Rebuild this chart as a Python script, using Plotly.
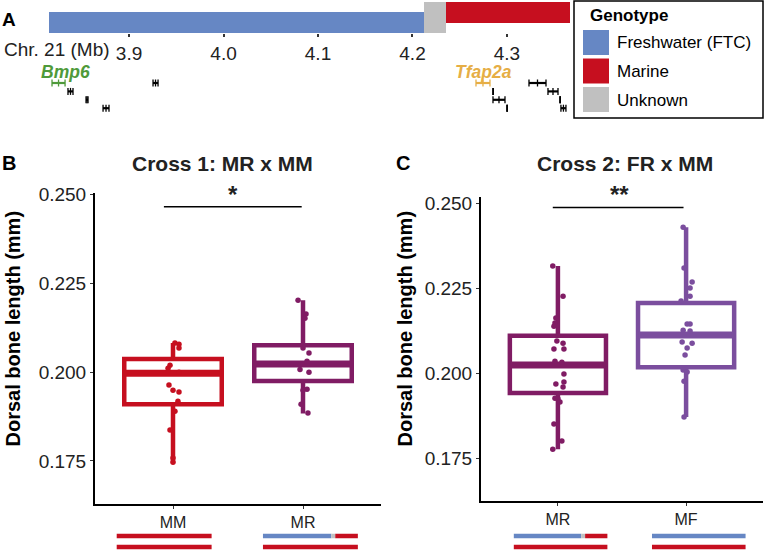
import plotly.graph_objects as go

# ---------------- data ----------------
# Panel A: genotype segments along chr 21 (Mb)
geno_names = ["Freshwater (FTC)", "Unknown", "Marine"]
geno_start = [3.8153, 4.2122, 4.2354]
geno_end = [4.2122, 4.2354, 4.3667]
axis_ticks = [3.9, 4.0, 4.1, 4.2, 4.3]
axis_ticktext = ["3.9", "4.0", "4.1", "4.2", "4.3"]

# gene models (start, end, track row, colour key)
gene_start = [3.8185, 3.8354, 3.8545, 3.8725, 3.9254, 4.2672, 4.2852, 4.2852, 4.3000, 4.3233, 4.3434, 4.3561, 4.3571]
gene_end   = [3.8323, 3.8407, 3.8566, 3.8788, 3.9307, 4.2820, 4.2855, 4.2979, 4.3003, 4.3413, 4.3540, 4.3564, 4.3624]
gene_row   = [0, 1, 2, 3, 0, 0, 1, 2, 3, 0, 1, 2, 3]
gene_kind  = ["Bmp6", "other", "other", "other", "other", "Tfap2a", "other", "other", "other", "other", "other", "other", "other"]
gene_labels = ["Bmp6", "Tfap2a"]
gene_label_x = [3.8323, 4.2751]

# Panel B: Cross 1 (MR x MM)
b_groups = ["MM", "MR"]
b_q1 = [0.1910, 0.1975]
b_med = [0.1997, 0.2023]
b_q3 = [0.2037, 0.2076]
b_lo = [0.1746, 0.1884]
b_hi = [0.2082, 0.2203]
b_mm_y = [0.2082, 0.2079, 0.2068, 0.2020, 0.2011, 0.2000, 0.1964, 0.1949, 0.1944, 0.1918, 0.1890, 0.1837, 0.1758, 0.1746]
b_mm_jit = [0.015, 0.046, 0.046, -0.023, -0.038, 0.046, -0.031, 0.0, 0.046, 0.038, 0.015, -0.023, 0.0, 0.0]
b_mr_y = [0.2203, 0.2164, 0.2152, 0.2068, 0.2054, 0.2031, 0.2008, 0.2000, 0.1952, 0.1949, 0.1910, 0.1885]
b_mr_jit = [-0.038, 0.023, 0.015, 0.0, 0.046, 0.031, -0.023, 0.046, 0.031, 0.0, -0.015, 0.038]

# Panel C: Cross 2 (FR x MM)
c_groups = ["MR", "MF"]
c_q1 = [0.1941, 0.2017]
c_med = [0.2024, 0.2112]
c_q3 = [0.2110, 0.2206]
c_lo = [0.1776, 0.1871]
c_hi = [0.2315, 0.2429]
c_mr_y = [0.2315, 0.2226, 0.2162, 0.2147, 0.2138, 0.2094, 0.2088, 0.2071, 0.2071, 0.2035, 0.2032,
          0.1997, 0.1968, 0.1974, 0.1959, 0.1926, 0.1924, 0.1915, 0.1850, 0.1800, 0.1776]
c_mr_jit = [-0.04, 0.04, -0.016, -0.023, -0.031, -0.008, 0.04, -0.031, 0.047, -0.023, 0.031,
            0.047, -0.016, 0.047, 0.04, -0.023, 0.0, 0.016, -0.031, 0.031, -0.04]
c_mf_y = [0.2429, 0.2309, 0.2268, 0.2250, 0.2226, 0.2212, 0.2144, 0.2144, 0.2126, 0.2124, 0.2091,
          0.2088, 0.2074, 0.2053, 0.2009, 0.2003, 0.1976, 0.1871]
c_mf_jit = [-0.023, -0.016, 0.047, 0.031, 0.031, -0.039, 0.008, 0.031, -0.023, 0.031, -0.031,
            0.047, 0.008, -0.008, -0.023, 0.008, -0.016, -0.016]

# haplotypes drawn under each genotype class (top, bottom): M marine, F freshwater, R recombinant
b_haplo = [("M", "M"), ("R", "M")]
c_haplo = [("R", "M"), ("F", "M")]

# ---------------- styles ----------------
FONT = "Liberation Sans, Arial, Helvetica, sans-serif"
BLUE = "#6687C4"
RED = "#C60F1F"
GRAY = "#C0C0C0"
MAG = "#801C64"
PURP = "#7B4E9E"
GREEN = "#4F9A3A"
GOLD = "#E6AE45"
geno_col = {"Freshwater (FTC)": BLUE, "Unknown": GRAY, "Marine": RED}
b_cols = [RED, MAG]
c_cols = [MAG, PURP]
W, H = 765, 551


def px(x):
    return x / W


def py(y):
    return 1 - y / H


def text(x, y, t, size, color="black", xanchor="center", yanchor="middle", **kw):
    return dict(x=px(x), y=py(y), xref="paper", yref="paper", text=t, showarrow=False,
                xanchor=xanchor, yanchor=yanchor, font=dict(family=FONT, size=size, color=color), **kw)


fig = go.Figure()

# ---------- panel A ----------
for n, s, e in zip(geno_names, geno_start, geno_end):
    fig.add_trace(go.Bar(x=[e - s], base=[s], y=[0.5], orientation="h", width=1,
                         marker=dict(color=geno_col[n], line=dict(width=0)),
                         xaxis="x3", yaxis="y3", showlegend=False, hoverinfo="skip"))

kind_col = {"Bmp6": GREEN, "Tfap2a": GOLD, "other": "black"}
for s, e, r, k in zip(gene_start, gene_end, gene_row, gene_kind):
    c = kind_col[k]
    fig.add_trace(go.Scatter(x=[s, (s + e) / 2, e], y=[r, r, r], mode="lines+markers",
                             line=dict(color=c, width=2.2),
                             marker=dict(symbol="line-ns", size=5, line=dict(color=c, width=1.3)),
                             xaxis="x4", yaxis="y4", showlegend=False, hoverinfo="skip"))

ann = []
for lab, gx in zip(gene_labels, gene_label_x):
    ann.append(dict(x=gx, y=-1.35, xref="x4", yref="y4", text=f"<b><i>{lab}</i></b>", showarrow=False,
                    xanchor="center", yanchor="middle",
                    font=dict(family=FONT, size=17.5, color=GREEN if lab == "Bmp6" else GOLD)))
ann.append(text(2, 49, "Chr. 21 (Mb)", 19, "#222", xanchor="left"))
ann.append(text(0, 20, "<b>A</b>", 19, xanchor="left"))

# legend (manual)
shapes = []
shapes.append(dict(type="rect", xref="paper", yref="paper", x0=px(574), x1=px(763), y0=py(118), y1=py(1),
                   line=dict(color="black", width=1.5), fillcolor="white"))
ann.append(text(588, 15, "<b>Genotype</b>", 17, xanchor="left"))
leg_order = ["Freshwater (FTC)", "Marine", "Unknown"]
for i, n in enumerate(leg_order):
    y0 = 30 + i * 28.5
    shapes.append(dict(type="rect", xref="paper", yref="paper", x0=px(583), x1=px(609), y0=py(y0 + 25), y1=py(y0),
                       line=dict(width=0), fillcolor=geno_col[n]))
    ann.append(text(615, y0 + 13, n, 17, xanchor="left"))

# ---------- panels B and C ----------
def add_panel(xa, ya, groups, q1, med, q3, lo, hi, cols, pts):
    for i, g in enumerate(groups):
        pos = i + 1
        fig.add_trace(go.Box(x=[pos], q1=[q1[i]], median=[med[i]], q3=[q3[i]], lowerfence=[lo[i]],
                             upperfence=[hi[i]], width=0.75, whiskerwidth=0, boxpoints=False,
                             line=dict(color=cols[i], width=4.5), fillcolor="rgba(255,255,255,0)",
                             xaxis=xa, yaxis=ya, showlegend=False, hoverinfo="skip"))
        fig.add_trace(go.Scatter(x=[pos - 0.375, pos + 0.375], y=[med[i], med[i]], mode="lines",
                                 line=dict(color=cols[i], width=7), xaxis=xa, yaxis=ya,
                                 showlegend=False, hoverinfo="skip"))
        ys, jit = pts[i]
        fig.add_trace(go.Scatter(x=[pos + j for j in jit], y=ys, mode="markers",
                                 marker=dict(color=cols[i], size=5.5), xaxis=xa, yaxis=ya,
                                 showlegend=False, hoverinfo="skip"))


add_panel("x", "y", b_groups, b_q1, b_med, b_q3, b_lo, b_hi, b_cols,
          [(b_mm_y, b_mm_jit), (b_mr_y, b_mr_jit)])
add_panel("x2", "y2", c_groups, c_q1, c_med, c_q3, c_lo, c_hi, c_cols,
          [(c_mr_y, c_mr_jit), (c_mf_y, c_mf_jit)])

# haplotype bars under the x axes
span = geno_end[-1] - geno_start[0]


def haplo_segments(kind):
    if kind == "M":
        return [(0.0, 1.0, RED)]
    if kind == "F":
        return [(0.0, 1.0, BLUE)]
    return [((s - geno_start[0]) / span, (e - geno_start[0]) / span, geno_col[n])
            for n, s, e in zip(geno_names, geno_start, geno_end)]


bar_starts = {"x": [0.567, 1.692], "x2": [0.656, 1.734]}
bar_w = 0.73
for xa, haps in (("x", b_haplo), ("x2", c_haplo)):
    for i, (top, bot) in enumerate(haps):
        x0 = bar_starts[xa][i]
        for kind, yy in ((top, 536), (bot, 547)):
            for f0, f1, col in haplo_segments(kind):
                shapes.append(dict(type="line", xref=xa, yref="paper", x0=x0 + f0 * bar_w, x1=x0 + f1 * bar_w,
                                   y0=py(yy), y1=py(yy), line=dict(color=col, width=4.5)))

# significance bars
shapes.append(dict(type="line", xref="x", yref="y", x0=0.93, x1=1.99, y0=0.2466, y1=0.2466,
                   line=dict(color="black", width=1.5)))
shapes.append(dict(type="line", xref="x2", yref="y2", x0=0.96, x1=1.98, y0=0.2487, y1=0.2487,
                   line=dict(color="black", width=1.5)))
ann.append(text(233, 195, "<b>*</b>", 24, "#222"))
ann.append(text(619, 195, "<b>**</b>", 24, "#222"))

# titles and panel letters
ann.append(text(222.5, 163, "<b>Cross 1: MR x MM</b>", 21, "#222"))
ann.append(text(625, 163, "<b>Cross 2: FR x MM</b>", 21, "#222"))
ann.append(text(0, 163, "<b>B</b>", 20, xanchor="left"))
ann.append(text(394, 163, "<b>C</b>", 20, xanchor="left"))
for xx in (12.5, 404.5):
    ann.append(text(xx, 329, "<b>Dorsal bone length (mm)</b>", 20, textangle=-90))

yt = [0.175, 0.200, 0.225, 0.250]
ytt = ["0.175", "0.200", "0.225", "0.250"]
common_y = dict(tickvals=yt, ticktext=ytt, showline=True, linecolor="black", linewidth=2, ticks="outside",
                ticklen=3, tickwidth=1, tickcolor="#333", showgrid=False, zeroline=False, automargin=False,
                tickfont=dict(family=FONT, size=19, color="#222"))
common_x = dict(range=[0.4, 2.6], tickvals=[1, 2], showline=True, linecolor="black", linewidth=2,
                ticks="outside", ticklen=3, tickwidth=1, tickcolor="#333", showgrid=False, zeroline=False,
                automargin=False, tickfont=dict(family=FONT, size=16, color="#222"))

fig.update_layout(
    template="none",
    width=W, height=H, margin=dict(l=0, r=0, t=0, b=0, pad=0), autosize=False,
    paper_bgcolor="white", plot_bgcolor="white", showlegend=False, bargap=0,
    xaxis=dict(domain=[px(95), px(381)], anchor="y", ticktext=b_groups, **common_x),
    yaxis=dict(domain=[py(504), py(193)], anchor="x", range=[0.16287, 0.2505], **common_y),
    xaxis2=dict(domain=[px(481), px(763)], anchor="y2", ticktext=c_groups, **common_x),
    yaxis2=dict(domain=[py(501), py(197)], anchor="x2", range=[0.16235, 0.2518], **common_y),
    xaxis3=dict(domain=[px(49), px(570)], anchor="y3", range=[geno_start[0], geno_end[-1]],
                tickvals=axis_ticks, ticktext=axis_ticktext, ticks="outside", ticklen=3, tickwidth=2,
                tickcolor="#333", showline=False, showgrid=False, zeroline=False, automargin=False,
                tickfont=dict(family=FONT, size=19, color="#222")),
    yaxis3=dict(domain=[py(33), py(2)], anchor="x3", range=[0, 1], visible=False, automargin=False),
    xaxis4=dict(domain=[px(49), px(570)], anchor="y4", range=[geno_start[0], geno_end[-1]],
                visible=False, automargin=False),
    yaxis4=dict(domain=[py(117), py(60)], anchor="x4", range=[4.05, -2.74], visible=False, automargin=False),
    shapes=shapes, annotations=ann,
)

fig.write_html("out.html", config={"displayModeBar": False},
               post_script="document.body.style.margin='0';document.body.style.padding='0';")
